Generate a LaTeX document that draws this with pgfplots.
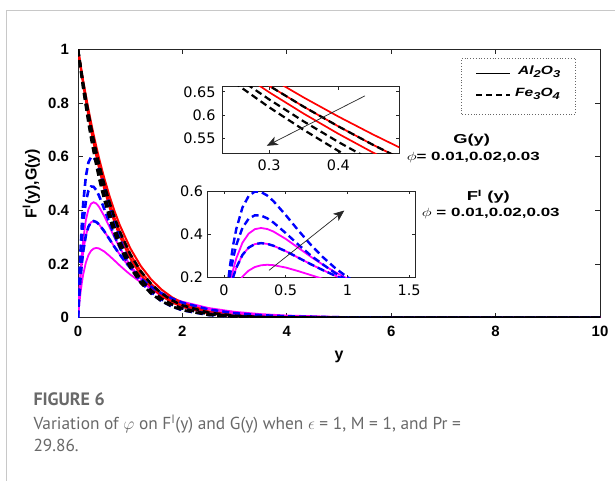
\documentclass[border=0pt]{standalone}
\usepackage{pgfplots}
\pgfplotsset{compat=1.18}
\usepackage{pgfplotstable}
\usepackage{fontspec}
\setmainfont{Liberation Sans}
\newfontfamily\dejavu{DejaVu Sans}
\newfontfamily\capfont{PT Sans}
\usetikzlibrary{arrows.meta}

\definecolor{axcol}{RGB}{38,38,38}
\definecolor{capgray}{RGB}{105,105,105}
\definecolor{framegray}{RGB}{200,200,200}
\definecolor{mymag}{RGB}{255,0,255}
\definecolor{myred}{RGB}{255,0,0}
\definecolor{myblue}{RGB}{0,0,255}

% G(y): columns G1..G5
\pgfplotstableread{
y    G1     G2     G3     G4     G5
0    1      1      1      1      1
0.1  0.8816 0.8737 0.8676 0.8607 0.8530
0.2  0.7757 0.7619 0.7513 0.7393 0.7261
0.25 0.7271 0.7109 0.6986 0.6847 0.6695
0.3  0.6811 0.6630 0.6492 0.6338 0.6169
0.35 0.6378 0.6180 0.6031 0.5864 0.5682
0.4  0.5969 0.5758 0.5599 0.5423 0.5231
0.45 0.5584 0.5362 0.5196 0.5012 0.4813
0.5  0.5220 0.4991 0.4819 0.4630 0.4426
0.6  0.4557 0.4317 0.4140 0.3946 0.3738
0.7  0.3969 0.3727 0.3549 0.3355 0.3151
0.8  0.3451 0.3211 0.3036 0.2848 0.2650
1.0  0.2592 0.2369 0.2209 0.2039 0.1864
1.2  0.1932 0.1734 0.1594 0.1448 0.1300
1.4  0.1429 0.1259 0.1142 0.1021 0.0900
1.6  0.1048 0.0907 0.0811 0.0714 0.0618
1.8  0.0762 0.0648 0.0571 0.0495 0.0421
2.0  0.0550 0.0460 0.0400 0.0340 0.0284
2.5  0.0235 0.0188 0.0158 0.0129 0.0103
3.0  0.0096 0.0073 0.0059 0.0047 0.0036
3.5  0.0037 0.0027 0.0021 0.0016 0.0012
4.0  0.0014 0.0009 0.0007 0.0005 0.0004
5.0  0.0002 0.0001 0.0001 0.0000 0.0000
6.0  0      0      0      0      0
8.0  0      0      0      0      0
10   0      0      0      0      0
}\Gtab

% F'(y): columns F1..F5
\pgfplotstableread{
y     F1     F2     F3     F4     F5
0     0      0      0      0      0
0.025 0.1439 0.1201 0.0963 0.0831 0.0523
0.05  0.2602 0.2162 0.1749 0.1503 0.0958
0.075 0.3529 0.2923 0.2389 0.2039 0.1318
0.1   0.4263 0.3517 0.2900 0.2466 0.1614
0.15  0.5255 0.4315 0.3623 0.3058 0.2051
0.2   0.5782 0.4731 0.4041 0.3393 0.2329
0.25  0.5986 0.4889 0.4246 0.3555 0.2493
0.3   0.5967 0.4876 0.4301 0.3600 0.2574
0.35  0.5805 0.4751 0.4255 0.3566 0.2598
0.4   0.5550 0.4557 0.4140 0.3481 0.2581
0.5   0.4902 0.4068 0.3797 0.3229 0.2471
0.6   0.4205 0.3544 0.3393 0.2933 0.2308
0.7   0.3546 0.3045 0.2985 0.2635 0.2128
0.8   0.2959 0.2620 0.2605 0.2354 0.1946
0.9   0.2452 0.2220 0.2261 0.2096 0.1772
1.0   0.2023 0.1880 0.1956 0.1862 0.1610
1.2   0.1368 0.1333 0.1457 0.1468 0.1323
1.4   0.0920 0.0952 0.1082 0.1156 0.1084
1.6   0.0619 0.0677 0.0802 0.0909 0.0888
1.8   0.0414 0.0482 0.0594 0.0715 0.0727
2.0   0.0278 0.0343 0.0440 0.0562 0.0595
2.5   0.0102 0.0147 0.0208 0.0309 0.0361
3.0   0.0038 0.0063 0.0098 0.0169 0.0219
3.5   0.0014 0.0027 0.0046 0.0093 0.0133
4.0   0.0005 0.0011 0.0022 0.0051 0.0081
5.0   0.0000 0.0002 0.0005 0.0015 0.0030
6.0   0      0      0.0001 0.0005 0.0011
8.0   0      0      0      0      0.0001
10    0      0      0      0      0
}\Ftab

\pgfplotsset{
  base/.style={scale only axis, anchor=south west,
    axis line style={axcol,line width=0.9bp},
    tick style={axcol,line width=0.7bp},
    tick align=inside,
    /pgf/number format/assume math mode=true,
    axis background/.style={fill=white}},
  mag/.style={draw=mymag, line width=#1, no marks},
  red/.style={draw=myred, line width=#1, no marks},
  bld/.style={draw=myblue, line width=#1, no marks, dash pattern=on 7bp off 4bp},
  bkd/.style={draw=black, line width=#1, no marks, dash pattern=on 7bp off 4bp},
}

\newcommand{\wide}[1]{\scalebox{1.42}[1]{#1}}
\newcommand{\sub}[1]{\raisebox{-3.2bp}{\fontsize{10}{10}\selectfont #1}}

\begin{document}
\begin{tikzpicture}
\useasboundingbox (0,0) rectangle (615bp,481bp);
\fill[white] (0,0) rectangle (615bp,481bp);
\draw[framegray, line width=1bp] (6bp,0) -- (6bp,470bp) -- (615bp,470bp);

% main axis
\begin{axis}[base, at={(78bp,163.3bp)}, width=522bp, height=268.4bp,
  xmin=0, xmax=10, ymin=0, ymax=1,
  xtick={0,2,4,6,8,10}, ytick={0,0.2,0.4,0.6,0.8,1},
  major tick length=5bp,
  ticklabel style={font=\fontsize{15}{15}\selectfont\bfseries},
  xticklabel style={yshift=-5bp},
  yticklabel style={xshift=-5.5bp},
  xlabel={y}, ylabel={F\textsuperscript{I}(y),G(y)},
  label style={font=\fontsize{16}{16}\selectfont\bfseries},
  xlabel style={at={(axis description cs:0.5,-0.1464)}, anchor=center},
  ylabel style={at={(axis description cs:-0.0895,0.5)}, anchor=center},
]
\addplot[mag=1.8bp] table[x=y,y=F3]{\Ftab};
\addplot[mag=1.8bp] table[x=y,y=F4]{\Ftab};
\addplot[mag=1.8bp] table[x=y,y=F5]{\Ftab};
\addplot[red=2bp] table[x=y,y=G1]{\Gtab};
\addplot[red=2bp] table[x=y,y=G2]{\Gtab};
\addplot[red=2bp] table[x=y,y=G3]{\Gtab};
\addplot[bld=2.6bp] table[x=y,y=F1]{\Ftab};
\addplot[bld=2.6bp] table[x=y,y=F2]{\Ftab};
\addplot[bld=2.6bp] table[x=y,y=F4]{\Ftab};
\addplot[bkd=2.6bp] table[x=y,y=G2]{\Gtab};
\addplot[bkd=2.6bp] table[x=y,y=G4]{\Gtab};
\addplot[bkd=2.6bp] table[x=y,y=G5]{\Gtab};
\end{axis}

% inset 1: G(y) zoom
\begin{axis}[base, at={(222bp,327.7bp)}, width=177.3bp, height=66.6bp,
  xmin=0.232, xmax=0.488, ymin=0.518, ymax=0.661,
  xtick={0.3,0.4}, ytick={0.55,0.6,0.65},
  major tick length=3bp,
  ticklabel style={font=\dejavu\fontsize{14.5}{14.5}\selectfont},
  xticklabel style={yshift=-3bp},
  yticklabel style={xshift=-3bp},
]
\addplot[red=1.7bp] table[x=y,y=G1]{\Gtab};
\addplot[red=1.7bp] table[x=y,y=G2]{\Gtab};
\addplot[red=1.7bp] table[x=y,y=G3]{\Gtab};
\addplot[bkd=2.2bp] table[x=y,y=G2]{\Gtab};
\addplot[bkd=2.2bp] table[x=y,y=G4]{\Gtab};
\addplot[bkd=2.2bp] table[x=y,y=G5]{\Gtab};
\draw[-{Stealth[length=11bp,width=9bp,inset=3bp]}, line width=0.7bp, black!85]
  (axis cs:0.4385,0.6414) -- (axis cs:0.2967,0.5341);
\end{axis}

% inset 2: F'(y) zoom
\begin{axis}[base, at={(207.7bp,203.3bp)}, width=207.3bp, height=86.4bp,
  xmin=-0.132, xmax=1.548, ymin=0.2, ymax=0.6,
  xtick={0,0.5,1,1.5}, ytick={0.2,0.4,0.6},
  major tick length=3bp,
  ticklabel style={font=\dejavu\fontsize{14.5}{14.5}\selectfont},
  xticklabel style={yshift=-4bp},
  yticklabel style={xshift=-1bp},
]
\addplot[mag=1.8bp] table[x=y,y=F3]{\Ftab};
\addplot[mag=1.8bp] table[x=y,y=F4]{\Ftab};
\addplot[mag=1.8bp] table[x=y,y=F5]{\Ftab};
\addplot[bld=2.4bp] table[x=y,y=F1]{\Ftab};
\addplot[bld=2.4bp] table[x=y,y=F2]{\Ftab};
\addplot[bld=2.4bp] table[x=y,y=F4]{\Ftab};
\draw[-{Stealth[length=11bp,width=9bp,inset=3bp]}, line width=0.7bp, black!85]
  (axis cs:0.365,0.234) -- (axis cs:0.975,0.511);
\end{axis}

% legend
\draw[black!60, dotted, line width=0.8bp] (461.7bp,367bp) rectangle (575.7bp,422.7bp);
\draw[black, line width=1.1bp] (476bp,407.7bp) -- (510bp,407.7bp);
\draw[black, line width=1.1bp, dash pattern=on 6bp off 4bp] (476bp,386bp) -- (510bp,386bp);
\node[anchor=west, inner sep=0pt, font=\fontsize{12}{12}\selectfont\bfseries\itshape] at (518bp,409bp) {\scalebox{1.3}[1]{Al\sub{2}O\sub{3}}};
\node[anchor=west, inner sep=0pt, font=\fontsize{12}{12}\selectfont\bfseries\itshape] at (515bp,387.3bp) {\scalebox{1.3}[1]{Fe\sub{3}O\sub{4}}};

% annotations
\node[inner sep=0pt, font=\fontsize{13}{13}\selectfont\bfseries] at (471.7bp,341bp) {\wide{G(y)}};
\node[inner sep=0pt, font=\fontsize{12}{12}\selectfont\bfseries] at (473.3bp,323.7bp) {\wide{$\phi$= 0.01,0.02,0.03}};
\node[inner sep=0pt, font=\fontsize{13}{13}\selectfont\bfseries] at (488.3bp,284.3bp) {\wide{F\textsuperscript{I} (y)}};
\node[inner sep=0pt, font=\fontsize{12}{12}\selectfont\bfseries] at (490.8bp,267.7bp) {\wide{$\phi$ =\ 0.01,0.02,0.03}};

% caption
\node[anchor=base west, inner sep=0pt, text=capgray, font=\capfont\fontsize{18}{18}\selectfont\bfseries] at (33.3bp,75bp) {FIGURE 6};
\node[anchor=base west, inner sep=0pt, text=capgray, font=\capfont\fontsize{17.4}{17.4}\selectfont] at (33.3bp,51.7bp) {Variation of $\varphi$ on F\textsuperscript{I}(y) and G(y) when $\epsilon$ = 1, M = 1, and Pr =};
\node[anchor=base west, inner sep=0pt, text=capgray, font=\capfont\fontsize{17.4}{17.4}\selectfont] at (33.3bp,29.3bp) {29.86.};
\end{tikzpicture}
\end{document}
